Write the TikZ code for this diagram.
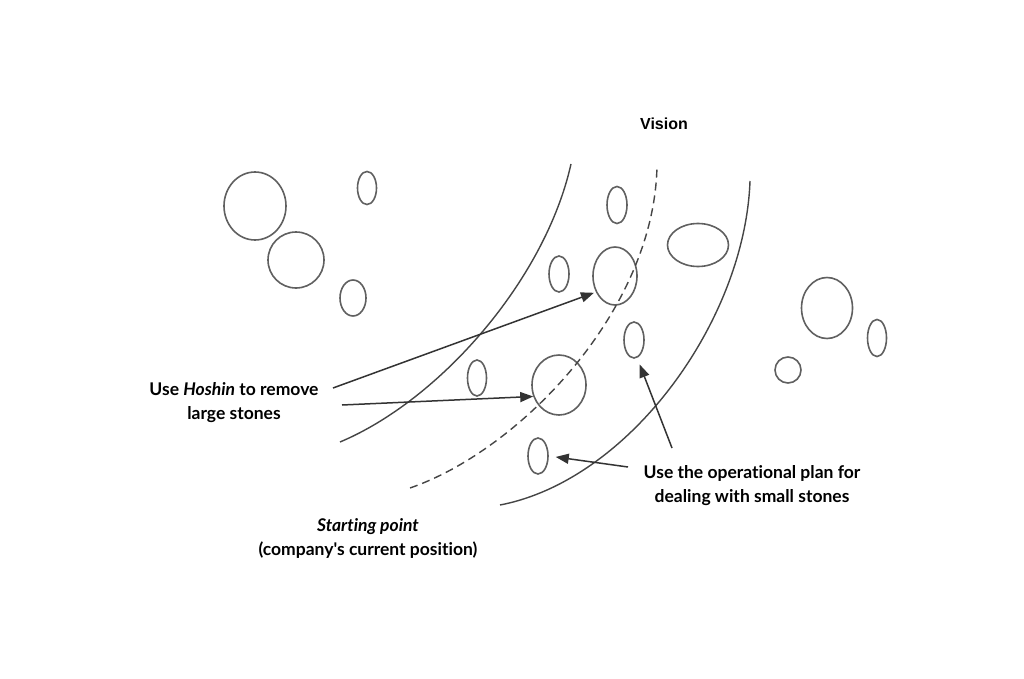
\documentclass[tikz,border=0pt]{standalone}
\usepackage{fontspec}
\setmainfont{Lato}[Ligatures={TeXOff,NoCommon}]
\newfontfamily\visfont{Liberation Sans}
\usetikzlibrary{shapes.geometric,arrows.meta}
\definecolor{stone}{HTML}{606060}
\definecolor{pathc}{HTML}{454545}
\definecolor{arrc}{HTML}{333333}
\tikzset{
  stonebox/.style={draw=stone, line width=1.6pt, ellipse, inner sep=0pt},
  road/.style={draw=pathc, line width=1.4pt},
  roaddash/.style={road, dash pattern=on 8pt off 5pt},
  pointer/.style={draw=arrc, line width=1.5pt, -{Triangle[length=13pt,width=10pt]}},
  lbl/.style={font=\fontsize{17.5}{24}\selectfont\bfseries, align=center, text=black, inner sep=0pt},
}
\begin{document}
\begin{tikzpicture}[x=1pt,y=-1pt]
\useasboundingbox[fill=white] (0,0) rectangle (1024,679);
% stones
\node[stonebox, minimum width=62pt, minimum height=68pt] (s1) at (255,206) {};
\node[stonebox, minimum width=56pt, minimum height=56pt] (s2) at (296,260) {};
\node[stonebox, minimum width=19pt, minimum height=33pt] (s3) at (367,188) {};
\node[stonebox, minimum width=26pt, minimum height=36pt] (s4) at (353,298) {};
\node[stonebox, minimum width=20pt, minimum height=37pt] (s5) at (617,205) {};
\node[stonebox, minimum width=20pt, minimum height=36pt] (s6) at (559,274) {};
\node[stonebox, minimum width=44pt, minimum height=58pt] (c1) at (615,276) {};
\node[stonebox, minimum width=20pt, minimum height=36pt] (s7) at (634,340) {};
\node[stonebox, minimum width=54pt, minimum height=60pt] (c2) at (559,385) {};
\node[stonebox, minimum width=20pt, minimum height=36pt] (s8) at (538,456) {};
\node[stonebox, minimum width=19pt, minimum height=36pt] (s9) at (477,378) {};
\node[stonebox, minimum width=61pt, minimum height=43pt] (s10) at (698,245) {};
\node[stonebox, minimum width=51pt, minimum height=61pt] (s11) at (827,308) {};
\node[stonebox, minimum width=19pt, minimum height=37pt] (s12) at (877,338) {};
\node[stonebox, minimum width=26pt, minimum height=26pt] (s13) at (788,370) {};
% paths
\draw[road] (340,442) .. controls (440,400) and (545,280) .. (571,164);
\draw[roaddash] (410,488) .. controls (520,450) and (655,310) .. (657,165);
\draw[road] (500,505) .. controls (630,480) and (745,320) .. (750,181);
% labels
\node[lbl, font=\fontsize{16}{20}\selectfont\visfont\bfseries] (vision) at (664,124) {Vision};
\node[lbl] (hoshin) at (234,403) {Use \textit{Hoshin} to remove\\large stones};
\node[lbl] (oper) at (752,486) {Use the operational plan for\\dealing with small stones};
\node[lbl] (start) at (368,538) {\textit{Starting point}\\(company's current position)};
% arrows
\coordinate (a1) at (333,388);
\coordinate (a2) at (342,405);
\coordinate (a3) at (672,448);
\coordinate (a4) at (628,467);
\draw[pointer, shorten >=2pt] (a1) -- (c1.220);
\draw[pointer] (a2) -- (c2.204);
\draw[pointer, shorten >=7pt] (a3) -- (s7.-80);
\draw[pointer, shorten >=7pt] (a4) -- (s8.east);
\end{tikzpicture}
\end{document}
